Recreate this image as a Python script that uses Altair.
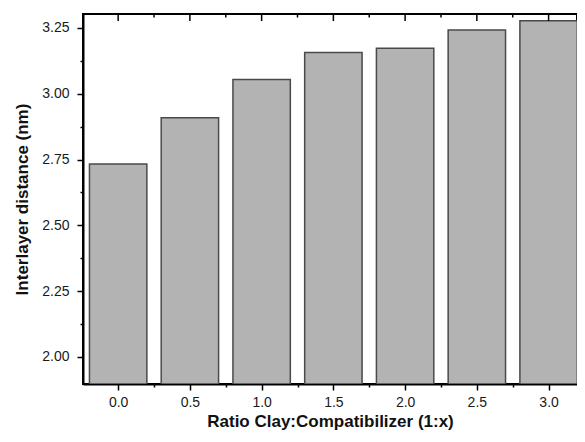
import altair as alt
import pandas as pd

# ---- data ----
ratios = [0.0, 0.5, 1.0, 1.5, 2.0, 2.5, 3.0]
distances = [2.733, 2.909, 3.054, 3.157, 3.173, 3.242, 3.277]

x_major = [0.0, 0.5, 1.0, 1.5, 2.0, 2.5, 3.0]
x_minor = [0.25, 0.75, 1.25, 1.75, 2.25, 2.75]
y_major = [2.00, 2.25, 2.50, 2.75, 3.00, 3.25]
y_minor = [2.125, 2.375, 2.625, 2.875, 3.125]

x_title = "Ratio Clay:Compatibilizer (1:x)"
y_title = "Interlayer distance (nm)"

x_domain = [-0.245, 3.198]
y_domain = [1.897, 3.303]

FONT = "Liberation Sans"

df = pd.DataFrame({"ratio": ratios, "distance": distances})
xscale = alt.Scale(domain=x_domain, nice=False, zero=False)
yscale = alt.Scale(domain=y_domain, nice=False, zero=False)

x_axis = alt.Axis(
    values=x_major + x_minor,
    labelExpr="datum.value % 0.5 == 0 ? format(datum.value, '.1f') : ''",
    tickSize={"condition": {"test": "datum.value % 0.5 == 0", "value": 6}, "value": 3},
    labelPadding=5,
    title=x_title,
    titlePadding=4,
    grid=False,
)
y_axis = alt.Axis(
    values=y_major + y_minor,
    labelExpr="datum.value % 0.25 == 0 ? format(datum.value, '.2f') : ''",
    tickSize={"condition": {"test": "datum.value % 0.25 == 0", "value": 6}, "value": 3},
    labelPadding=8,
    title=y_title,
    titlePadding=10,
    grid=False,
)

bars = (
    alt.Chart(df)
    .transform_calculate(x0="datum.ratio - 0.2", x1="datum.ratio + 0.2")
    .mark_bar(fill="#b3b3b3", stroke="#4a4a4a", strokeWidth=1.5, clip=True)
    .encode(
        x=alt.X("x0:Q", scale=xscale, axis=x_axis),
        x2="x1:Q",
        y=alt.Y("distance:Q", scale=yscale, axis=y_axis),
        y2=alt.datum(y_domain[0]),
    )
)

top_major = alt.Chart(pd.DataFrame({"t": x_major})).mark_rule(color="black", strokeWidth=1.5).encode(
    x=alt.X("t:Q", scale=xscale, axis=x_axis), y=alt.value(0), y2=alt.value(7)
)
top_minor = alt.Chart(pd.DataFrame({"t": x_minor})).mark_rule(color="black", strokeWidth=1.5).encode(
    x=alt.X("t:Q", scale=xscale, axis=x_axis), y=alt.value(0), y2=alt.value(3.5)
)

chart = (
    alt.layer(bars, top_major, top_minor)
    .properties(
        width=494,
        height=370,
        autosize=alt.AutoSizeParams(type="none"),
        padding={"left": 75, "top": 6, "right": 0, "bottom": 50},
    )
    .configure_view(stroke="black", strokeWidth=2)
    .configure_axis(
        domainColor="black",
        domainWidth=2,
        tickColor="black",
        tickWidth=1.5,
        labelFont=FONT,
        labelFontSize=14,
        labelColor="#1a1a1a",
        titleFont=FONT,
        titleFontSize=17,
        titleFontWeight="bold",
        titleColor="#111111",
    )
)

chart.save("out.html", embed_options={"renderer": "svg", "actions": False})
